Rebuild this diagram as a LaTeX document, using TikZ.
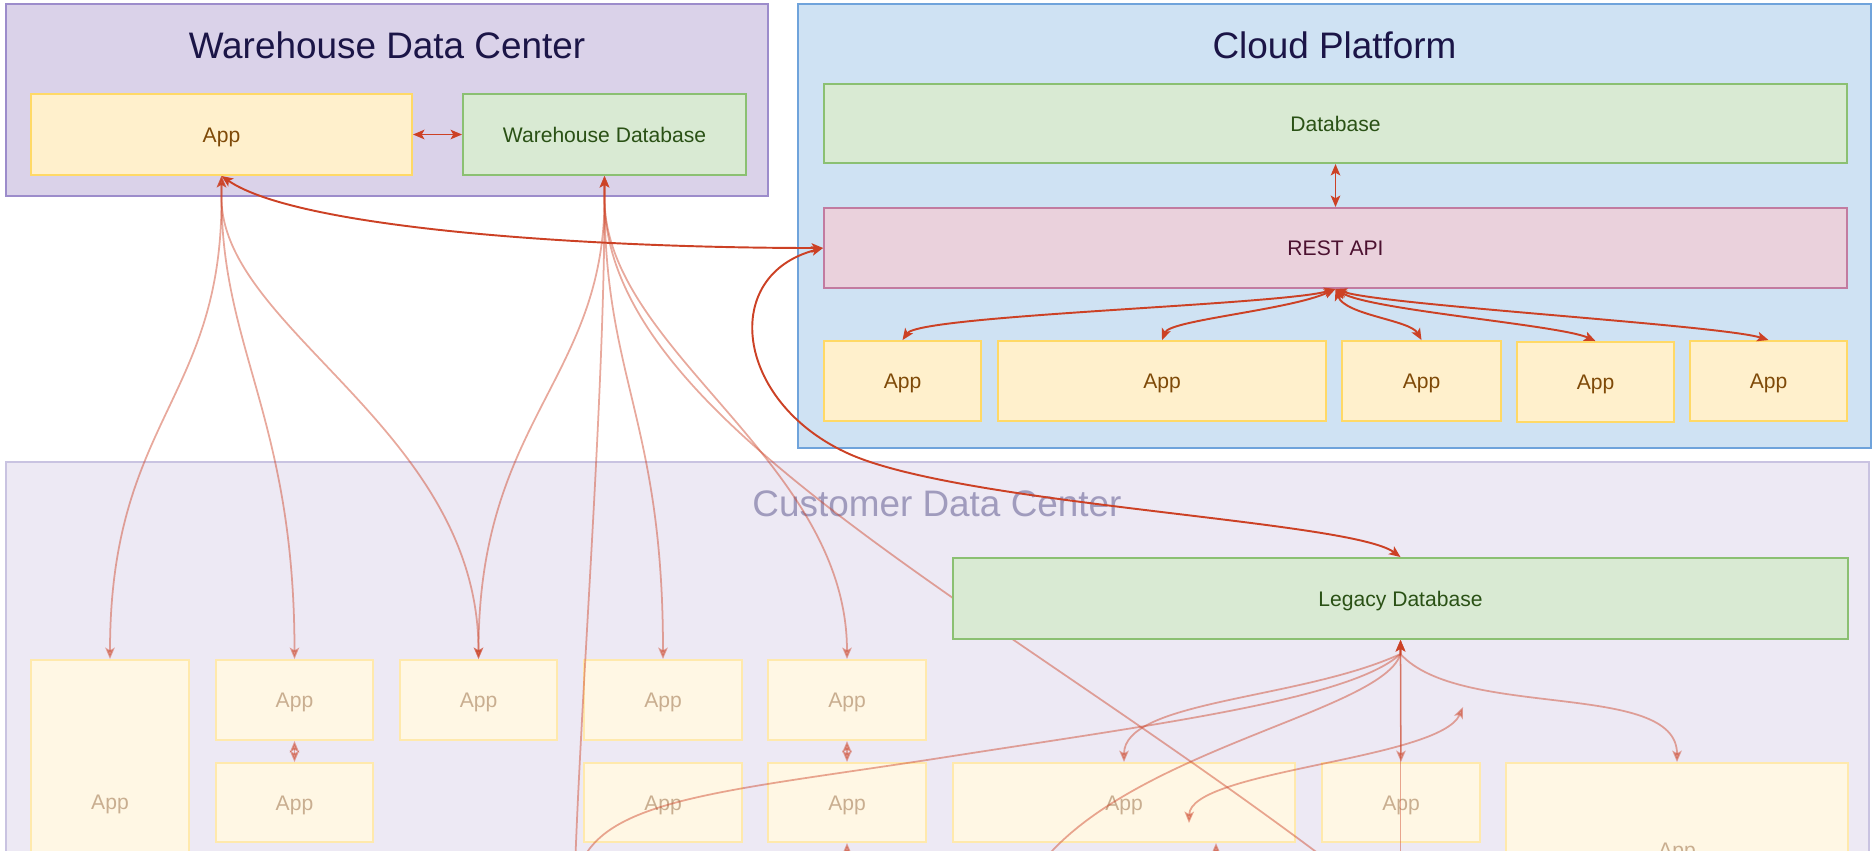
\documentclass[tikz,border=0pt]{standalone}
\usepackage{fontspec}
\setmainfont{Liberation Sans}
\usetikzlibrary{arrows.meta}

\definecolor{wdcfill}{HTML}{DAD2E9}
\definecolor{wdcline}{HTML}{9C8CCB}
\definecolor{cpfill}{HTML}{CFE2F3}
\definecolor{cpline}{HTML}{6FA3DB}
\definecolor{cdcfill}{HTML}{EDE9F4}
\definecolor{cdcline}{HTML}{C9C3E1}
\definecolor{titleink}{HTML}{1B1547}
\definecolor{cdctitle}{HTML}{A09BBD}
\definecolor{appfill}{HTML}{FFF0CC}
\definecolor{appline}{HTML}{FFD966}
\definecolor{appink}{HTML}{7F4A08}
\definecolor{fadefill}{HTML}{FFF7E4}
\definecolor{fadeline}{HTML}{FFE9AC}
\definecolor{fadeink}{HTML}{C9AE90}
\definecolor{dbfill}{HTML}{D9EAD3}
\definecolor{dbline}{HTML}{8BC072}
\definecolor{dbink}{HTML}{2A5115}
\definecolor{apifill}{HTML}{EAD1DC}
\definecolor{apiline}{HTML}{C27BA0}
\definecolor{apiink}{HTML}{4C1130}
\definecolor{linkred}{HTML}{CC4125}

\pgfdeclarelayer{zones}
\pgfdeclarelayer{soft}
\pgfsetlayers{zones,soft,main}

\tikzset{
  zone/.style={line width=1.1pt},
  box/.style={draw, line width=1.1pt, inner sep=0pt,
    font=\fontsize{12}{14}\selectfont, text height=8.6pt, text depth=0pt},
  appbox/.style={box, fill=appfill, draw=appline, text=appink},
  fadebox/.style={box, fill=fadefill, draw=fadeline, text=fadeink},
  dbbox/.style={box, fill=dbfill, draw=dbline, text=dbink},
  apibox/.style={box, fill=apifill, draw=apiline, text=apiink},
  zonetitle/.style={font=\fontsize{21}{25}\selectfont, text=titleink},
  strong/.style={draw=linkred, line width=1.1pt, <->},
  softlink/.style={draw=linkred, line width=1pt, opacity=0.45, <->},
}

% a box given by its corners (in pixel units): style, name, x1, y1, x2, y2, text
\newcommand\pixbox[7]{%
  \node[#1, minimum width={(#5-#3)*0.02cm}, minimum height={(#6-#4)*0.02cm}]
    (#2) at ({(#3+#5)/2},{(#4+#6)/2}) {#7};}

\begin{document}
\begin{tikzpicture}[x=0.02cm, y=-0.02cm,
    >={Stealth[length=6.5pt,width=5.4pt,inset=1.5pt]}]
\useasboundingbox (0,0) rectangle (1875,850);
\clip (0,0) rectangle (1875,850);

\begin{pgfonlayer}{zones}
% zones
\path[zone, fill=wdcfill, draw=wdcline] (6,4) rectangle (768,196);
\path[zone, fill=cpfill, draw=cpline] (798,4) rectangle (1871,448);
\path[zone, fill=cdcfill, draw=cdcline] (6,462) rectangle (1869,1000);

\node[zonetitle] (wdctitle) at (387,45) {Warehouse Data Center};
\node[zonetitle] (cptitle) at (1334.5,45) {Cloud Platform};
\node[font=\fontsize{21}{25}\selectfont, text=cdctitle] (cdctitle) at (937,504) {Customer Data Center};

% customer applications
\pixbox{fadebox}{c1}{31}{660}{189}{944}{App}
\pixbox{fadebox}{c2}{216}{660}{373}{740}{App}
\pixbox{fadebox}{c3}{400}{660}{557}{740}{App}
\pixbox{fadebox}{c4}{584}{660}{742}{740}{App}
\pixbox{fadebox}{c5}{768}{660}{926}{740}{App}
\pixbox{fadebox}{c2b}{216}{763}{373}{842}{App}
\pixbox{fadebox}{c4b}{584}{763}{742}{842}{App}
\pixbox{fadebox}{c5b}{768}{763}{926}{842}{App}
\pixbox{fadebox}{c6}{953}{763}{1295}{842}{App}
\pixbox{fadebox}{c7}{1322}{763}{1480}{842}{App}
\pixbox{fadebox}{c8}{1506}{763}{1848}{936}{App}
\end{pgfonlayer}

% warehouse data center
\pixbox{appbox}{wapp}{31}{94}{412}{175}{App}
\pixbox{dbbox}{wdb}{463}{94}{746}{175}{Warehouse Database}

% cloud platform
\pixbox{dbbox}{cdb}{824}{84}{1847}{163}{Database}
\pixbox{apibox}{rest}{824}{208}{1847}{288}{REST API}
\pixbox{appbox}{ca1}{824}{341}{981}{421}{App}
\pixbox{appbox}{ca2}{998}{341}{1326}{421}{App}
\pixbox{appbox}{ca3}{1342}{341}{1501}{421}{App}
\pixbox{appbox}{ca4}{1517}{342}{1674}{422}{App}
\pixbox{appbox}{ca5}{1690}{341}{1847}{421}{App}

% legacy database
\pixbox{dbbox}{ldb}{953}{558}{1848}{639}{Legacy Database}

% loose ends of links that continue below
\coordinate (pA) at (574,900);
\coordinate (pB) at (1500,1000);
\coordinate (pC) at (1400.5,1000);
\coordinate (pD) at (1010,930);
\coordinate (pE) at (1463,707);
\coordinate (pF) at (1189,823);
\coordinate (pG) at (847,900);
\coordinate (pH) at (1216,900);

\begin{pgfonlayer}{soft}
\draw[softlink] (wapp.south) -- ++(0,22) .. controls (222,400) and (110,420) .. (c1.north);
\draw[softlink] (wapp.south) -- ++(0,22) .. controls (222,350) and (294.5,420) .. (c2.north);
\draw[softlink] (wapp.south) -- ++(0,22) .. controls (222,330) and (478.5,430) .. (c3.north);

\draw[softlink] (wdb.south) -- ++(0,22) .. controls (604.5,380) and (478.5,420) .. (c3.north);
\draw[softlink] (wdb.south) -- ++(0,22) .. controls (604.5,400) and (580,700) .. (pA);
\draw[softlink] (wdb.south) -- ++(0,22) .. controls (604.5,380) and (663,420) .. (c4.north);
\draw[softlink] (wdb.south) -- ++(0,22) .. controls (604.5,350) and (847,460) .. (c5.north);
\draw[softlink] (wdb.south) -- ++(0,22) .. controls (604.5,450) and (1100,650) .. (pB);

\draw[softlink] (c2.south) -- (c2b.north);
\draw[softlink] (c5.south) -- (c5b.north);
\draw[softlink] (pG) -- (c5b.south);
\draw[softlink] (pH) -- (pH |- c6.south);

\draw[softlink] (ldb.south) -- ++(0,14) .. controls (1300,700) and (1124,700) .. (c6.north);
\draw[softlink] (ldb.south) -- (c7.north);
\draw[softlink] (ldb.south) -- (pC);
\draw[softlink] (ldb.south) -- ++(0,14) .. controls (1460,720) and (1677,680) .. (c8.north);
\draw[softlink] (ldb.south) -- ++(0,14) .. controls (1350,700) and (1150,725) .. (940,758)
   .. controls (700,795) and (580,800) .. (pA);
\draw[softlink] (ldb.south) -- ++(0,14) .. controls (1380,720) and (1050,760) .. (pD);
\draw[softlink] (pE) .. controls (1440,760) and (1190,770) .. (pF);
\end{pgfonlayer}

% main links
\draw[strong] (wapp.east) -- (wdb.west);
\draw[strong] (cdb.south) -- (rest.north);
\draw[strong] (wapp.south) .. controls (300,230) and (600,248) .. (rest.west);
\draw[strong] (rest.west) .. controls (720,275) and (735,400) .. (845,452)
   .. controls (955,505) and (1350,520) .. (ldb.north);
\draw[strong] (rest.south) .. controls (1280,305) and (920,315) .. (ca1.north);
\draw[strong] (rest.south) .. controls (1290,310) and (1170,320) .. (ca2.north);
\draw[strong] (rest.south) .. controls (1345,315) and (1410,320) .. (ca3.north);
\draw[strong] (rest.south) .. controls (1370,310) and (1560,325) .. (ca4.north);
\draw[strong] (rest.south) .. controls (1380,305) and (1720,325) .. (ca5.north);
\end{tikzpicture}
\end{document}
